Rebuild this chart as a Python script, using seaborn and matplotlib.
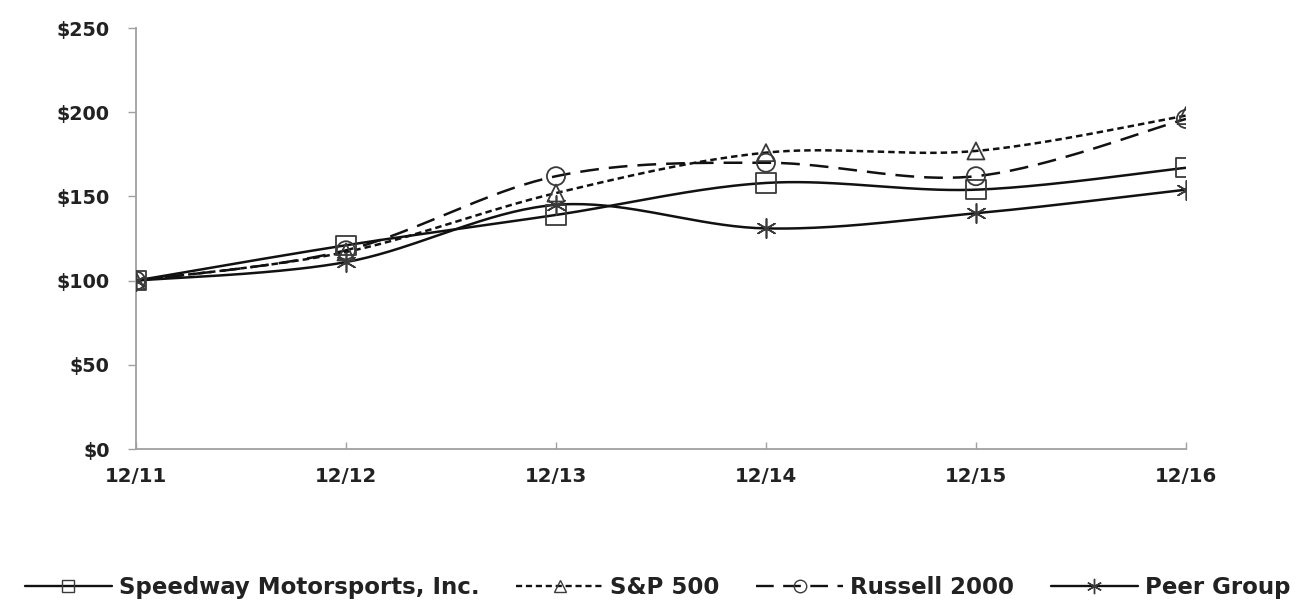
import numpy as np
import pandas as pd
import seaborn as sns
import matplotlib
matplotlib.use("Agg")
import matplotlib.pyplot as plt
from matplotlib.lines import Line2D

# Cumulative total return, $100 invested at 12/11
periods = ["12/11", "12/12", "12/13", "12/14", "12/15", "12/16"]
speedway = [100, 121, 139, 158, 154, 167]
sp500 = [100, 117, 152, 176, 177, 198]
russell = [100, 118, 162, 170, 162, 196]
peer = [100, 111, 145, 131, 140, 154]

series_names = ["Speedway Motorsports, Inc.", "S&P 500", "Russell 2000", "Peer Group"]
y_ticks = [0, 50, 100, 150, 200, 250]


def smooth_curve(xs, ys, n=40):
    """Bezier smoothing through every point (Catmull-Rom style tangents)."""
    pts = np.column_stack([xs, ys]).astype(float)
    P = np.vstack([pts[0], pts, pts[-1]])
    out = []
    t = np.linspace(0, 1, n)[:, None]
    for i in range(len(pts) - 1):
        p0, p1, p2, p3 = P[i], P[i + 1], P[i + 2], P[i + 3]
        c1 = p1 + (p2 - p0) / 6.0
        c2 = p2 - (p3 - p1) / 6.0
        seg = ((1 - t) ** 3) * p1 + 3 * ((1 - t) ** 2) * t * c1 + 3 * (1 - t) * t ** 2 * c2 + t ** 3 * p2
        out.append(seg if i == 0 else seg[1:])
    out = np.vstack(out)
    return out[:, 0], out[:, 1]


sns.set_theme(style="white")
plt.rcParams["font.family"] = ["DejaVu Sans"]

fig = plt.figure(figsize=(13.1, 6.04), dpi=100)
ax = fig.add_axes([0.1038, 0.2566, 0.8015, 0.697])

x = np.arange(len(periods))
ink = "#111111"
mark_ec = "#3a3a3a"

styles = [
    (speedway, "-", "s", 190),
    (sp500, (0, (2.6, 1.6)), "^", 150),
    (russell, (0, (7.5, 4.0)), "o", 170),
    (peer, "-", (6, 2, 0), 190),
]

for vals, ls, mk, size in styles:
    sx, sy = smooth_curve(x, vals)
    sns.lineplot(x=sx, y=sy, sort=False, estimator=None, color=ink,
                 linewidth=1.8, linestyle=ls, ax=ax, zorder=3)

for vals, ls, mk, size in styles:
    if mk == (6, 2, 0):
        sns.scatterplot(x=x, y=vals, marker=mk, s=size, color=mark_ec,
                        linewidth=1.2, ax=ax, zorder=4)
    else:
        sns.scatterplot(x=x, y=vals, marker=mk, s=size, facecolors="none",
                        edgecolors=mark_ec, linewidth=1.3, ax=ax, zorder=4)

ax.set_xlim(0, 5)
ax.set_ylim(0, 250)
ax.set_xticks(x)
ax.set_xticklabels(periods)
ax.set_yticks(y_ticks)
ax.set_yticklabels([f"${v}" for v in y_ticks])
ax.set_xlabel("")
ax.set_ylabel("")

for side in ["top", "right"]:
    ax.spines[side].set_visible(False)
for side in ["left", "bottom"]:
    ax.spines[side].set_color("#a0a0a0")
    ax.spines[side].set_linewidth(1.3)

ax.tick_params(axis="y", direction="out", length=6, width=1.0, color="#a0a0a0",
               pad=13, labelsize=13.8, labelcolor="#222222")
ax.tick_params(axis="x", direction="in", length=5, width=1.0, color="#a0a0a0",
               pad=13, labelsize=14.2, labelcolor="#222222")
ax.tick_params(left=True, bottom=True)
for lab in ax.get_xticklabels() + ax.get_yticklabels():
    lab.set_fontweight("bold")

handles = [
    Line2D([], [], color=ink, linewidth=1.7, linestyle=s[1], marker=s[2],
           markersize=9 if s[2] != (6, 2, 0) else 11,
           markerfacecolor="none" if s[2] != (6, 2, 0) else mark_ec,
           markeredgecolor=mark_ec, markeredgewidth=1.0)
    for s in styles
]
leg = fig.legend(handles, series_names, loc="center", bbox_to_anchor=(0.502, 0.028),
                 ncol=4, frameon=False, handlelength=3.8, handletextpad=0.3,
                 columnspacing=1.6,
                 prop={"weight": "bold", "size": 16.5})
for t in leg.get_texts():
    t.set_color("#222222")

fig.savefig("out.png", dpi=100, facecolor="white")
